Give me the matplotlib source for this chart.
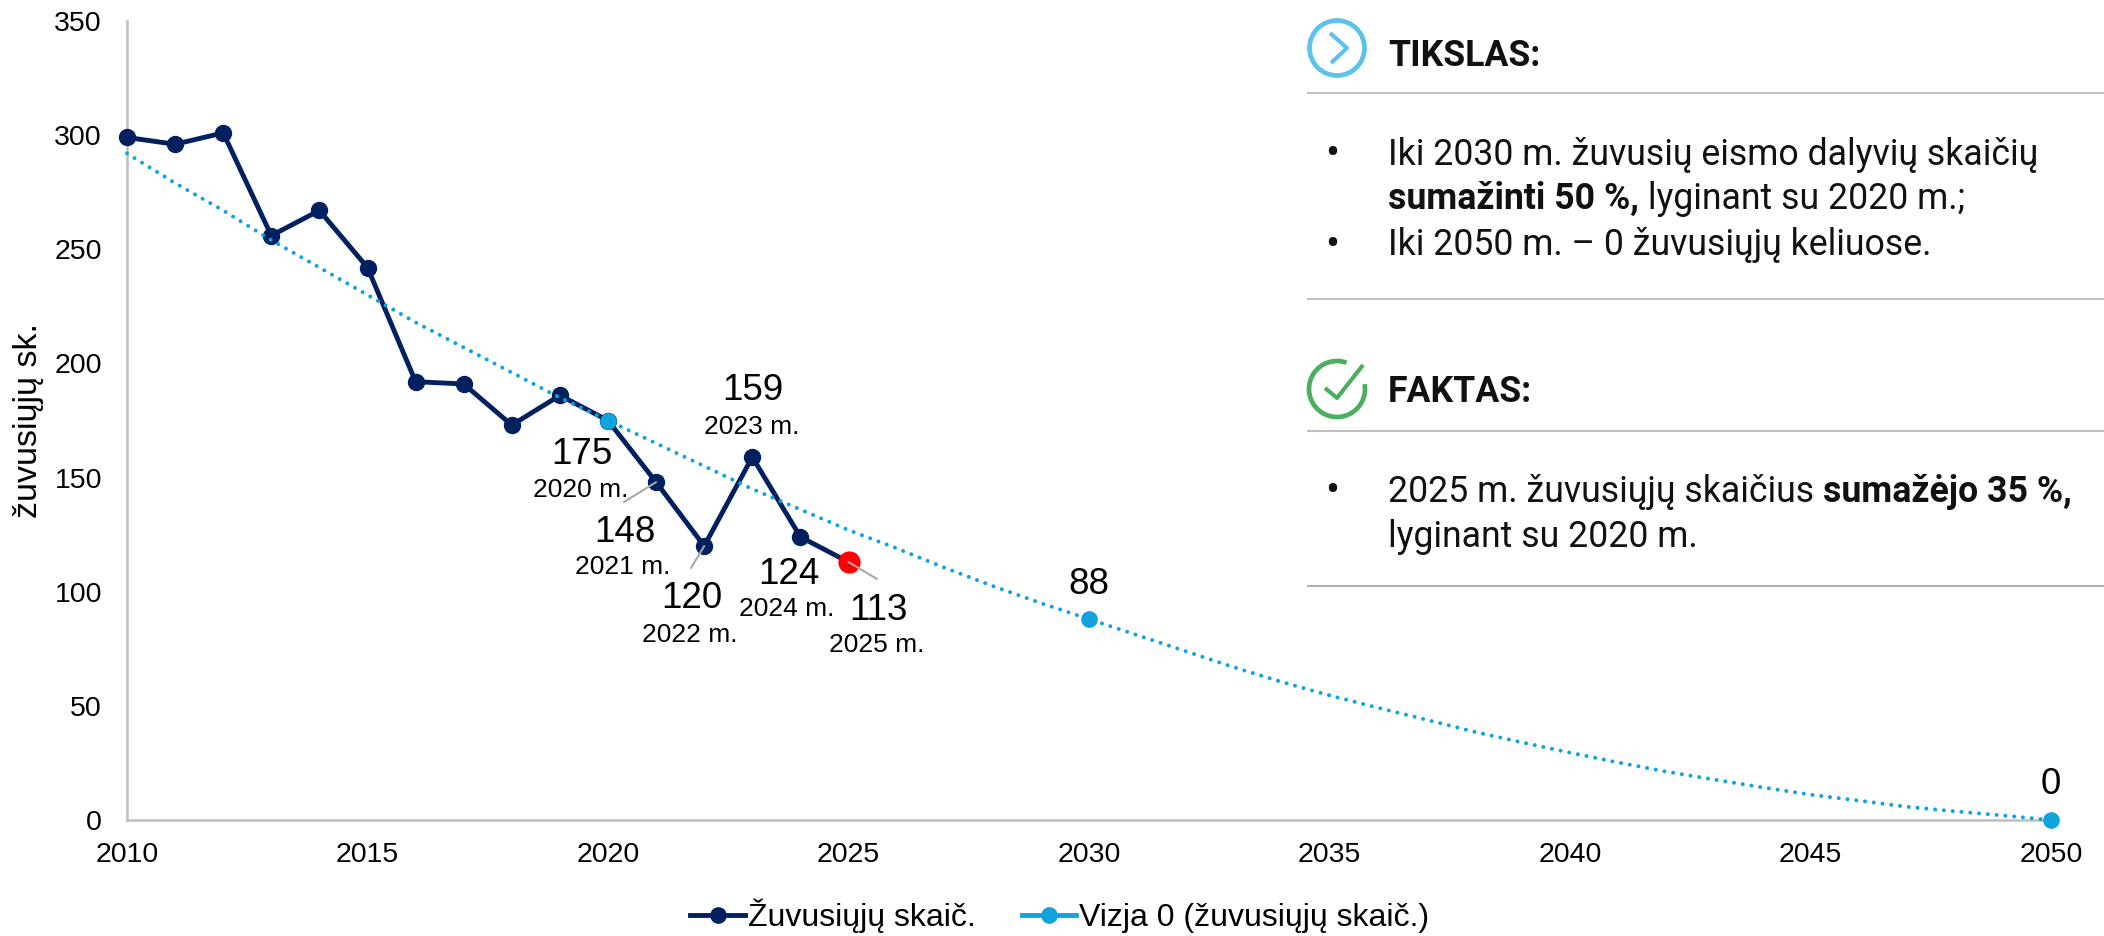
import matplotlib
matplotlib.use("Agg")
import matplotlib.pyplot as plt
from matplotlib.lines import Line2D
from matplotlib.patches import Arc, Circle

W, H = 2104, 936

years = list(range(2010, 2026))
deaths = [299, 296, 301, 256, 267, 242, 192, 191, 173, 186, 175, 148, 120, 159, 124, 113]
vision_years = list(range(2010, 2051))
vision = [292, 279, 267, 254, 242, 230, 218, 207, 196, 185, 175, 165, 155, 145, 136, 127,
          119, 110.5, 102.5, 95, 88, 81, 74, 67, 60.5, 54.6, 49.2, 44, 38.7, 34, 29.5, 25.2,
          21.2, 17.7, 14.3, 11.1, 8.5, 5.8, 3.8, 2, 0]
vision_marked = [2020, 2030, 2050]
x_ticks = list(range(2010, 2051, 5))
y_ticks = list(range(0, 351, 50))
y_label = "žuvusiųjų sk."
legend_labels = ["Žuvusiųjų skaič.", "Vizja 0 (žuvusiųjų skaič.)"]

# value text, year text, pixel centres of both
callouts = [
    ("175", "2020 m.", (582, 450), (581, 487)),
    ("148", "2021 m.", (625, 528), (623, 565)),
    ("120", "2022 m.", (692, 595), (690, 632)),
    ("159", "2023 m.", (753, 387), (752, 424)),
    ("124", "2024 m.", (789, 570), (787, 607)),
    ("113", "2025 m.", (878, 606), (877, 643)),
    ("88", None, (1089, 581), None),
    ("0", None, (2051, 780), None),
]
leaders = [(2021, 148, (624, 502)), (2022, 120, (691, 568)), (2025, 113, (877, 579))]

DARK = "#002060"
BLUE = "#12A3DC"
GREY = "#BFBFBF"
SANS = "Liberation Sans"
PANEL = "Roboto"

def fx(px):
    return px / W

def fy(py):
    return 1 - py / H

fig = plt.figure(figsize=(W / 100, H / 100), dpi=100, facecolor="white")
ax = fig.add_axes([fx(127), fy(820), (2051 - 127) / W, (820 - 21) / H])
ax.set_xlim(2010, 2050)
ax.set_ylim(0, 350)
ax.set_xticks(x_ticks)
ax.set_yticks(y_ticks)
ax.tick_params(length=0, labelsize=20.5, labelcolor="black")
ax.tick_params(axis="y", pad=18)
ax.tick_params(axis="x", pad=16)
for lab in ax.get_xticklabels() + ax.get_yticklabels():
    lab.set_fontfamily(SANS)
for s in ("top", "right"):
    ax.spines[s].set_visible(False)
for s in ("left", "bottom"):
    ax.spines[s].set_color(GREY)
    ax.spines[s].set_linewidth(1.8)

ax.plot(years, deaths, color=DARK, lw=3.5, marker="o", ms=11.5, clip_on=False, zorder=3)
ax.plot(years[-1:], deaths[-1:], color="#FF0000", marker="o", ms=15, ls="none", clip_on=False, zorder=5)
ax.plot(vision_years, vision, color=BLUE, lw=2.9, ls=(0, (0.01, 2.18)),
        dash_capstyle="round", clip_on=False, zorder=4)
mark_vals = [vision[vision_years.index(y)] for y in vision_marked]
ax.plot(vision_marked, mark_vals, color=BLUE, marker="o", ms=11, ls="none", clip_on=False, zorder=5)

for yr, val, (px, py) in leaders:
    ax.annotate("", xy=(yr, val), xycoords="data", xytext=(fx(px), fy(py)),
                textcoords="figure fraction", zorder=6,
                arrowprops=dict(arrowstyle="-", color="#A6A6A6", lw=1.5, shrinkA=0, shrinkB=0))

for val, yr, vp, yp in callouts:
    fig.text(fx(vp[0]), fy(vp[1]), val, fontsize=26.5, family=SANS, ha="center", va="center_baseline", color="black")
    if yr:
        fig.text(fx(yp[0]), fy(yp[1]), yr, fontsize=19, family=SANS, ha="center", va="center_baseline", color="black")

fig.text(fx(29), fy(421), y_label, fontsize=24.5, family=SANS, rotation=90, ha="center", va="center", color="black")

handles = [
    Line2D([], [], color=DARK, lw=3.5, marker="o", ms=11),
    Line2D([], [], color=BLUE, lw=3.5, marker="o", ms=11),
]
fig.legend(handles, legend_labels, loc="center", bbox_to_anchor=(fx(1060), fy(916)), ncol=2, frameon=False,
           prop={"family": SANS, "size": 23}, handlelength=1.7, handletextpad=0.1, columnspacing=1.45,
           borderpad=0, borderaxespad=0)

# Right-hand information panel, in figure pixels
panel = fig.add_axes([0, 0, 1, 1], facecolor="none")
panel.set_xlim(0, W)
panel.set_ylim(H, 0)
panel.axis("off")
panel.set_zorder(10)

for y, c, w in ((92.6, GREY, 1.5), (298.5, GREY, 1.5), (431, GREY, 1.5), (585.5, "#999999", 1.1)):
    panel.plot([1307, W], [y, y], color=c, lw=w, solid_capstyle="butt")

panel.add_patch(Circle((1337, 48), 27.5, fill=False, ec="#5BC2EE", lw=3.4))
panel.plot([1330, 1347, 1331], [33, 48, 63], color="#5BC2EE", lw=3, solid_capstyle="butt")
panel.add_patch(Arc((1337, 389), 56, 56, theta1=-10, theta2=290, ec="#4CAF5F", lw=3.4))
panel.plot([1325, 1337, 1363], [388, 398, 365], color="#4CAF5F", lw=3, solid_capstyle="butt")

renderer = fig.canvas.get_renderer()

def rich(x, y, parts, size=25.7):
    for txt, bold in parts:
        t = panel.text(x, y, txt, fontsize=size, family=PANEL, weight="bold" if bold else "normal",
                       ha="left", va="center_baseline", color="#111111")
        x = panel.transData.inverted().transform((t.get_window_extent(renderer).x1, 0))[0]

rich(1388, 51.5, [("TIKSLAS:", True)])
rich(1388, 387.5, [("FAKTAS:", True)])
rich(1388, 151, [("Iki 2030 m. žuvusių eismo dalyvių skaičių", False)])
rich(1388, 195, [("sumažinti 50 %,", True), (" lyginant su 2020 m.;", False)])
rich(1388, 241, [("Iki 2050 m. – 0 žuvusiųjų keliuose.", False)])
rich(1388, 487.5, [("2025 m. žuvusiųjų skaičius ", False), ("sumažėjo 35 %,", True)])
rich(1388, 533, [("lyginant su 2020 m.", False)])
for y in (150, 241, 487):
    panel.text(1332.5, y, "•", fontsize=30, family=PANEL, ha="center", va="center_baseline", color="#111111")

fig.savefig("out.png", dpi=100, facecolor="white")
